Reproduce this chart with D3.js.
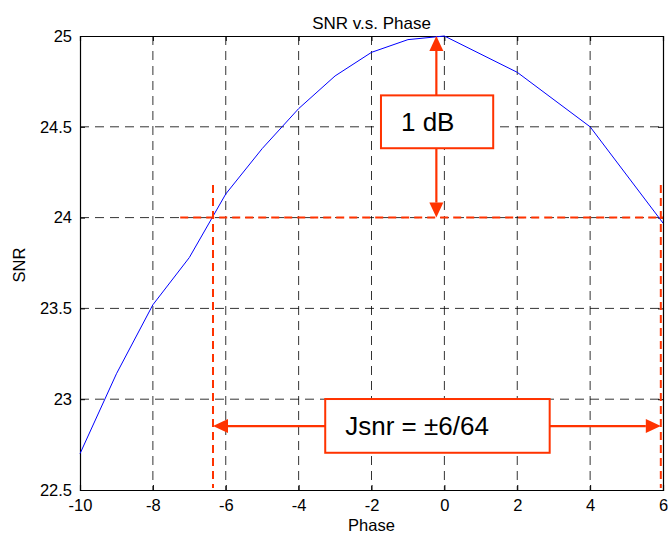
<!DOCTYPE html>
<html>
<head>
<meta charset="utf-8">
<script src="https://cdn.jsdelivr.net/npm/d3@7"></script>
<style>
  html, body { margin: 0; padding: 0; background: #fff; }
  svg { display: block; }
  text { font-family: "Liberation Sans", Arial, Helvetica, sans-serif; fill: #000; }
</style>
</head>
<body>
<script>
// ---------- data ----------
const phase = [-10, -9, -8, -7, -6, -5, -4, -3, -2, -1, 0, 2, 4, 6];
const snr   = [22.70, 23.14, 23.52, 23.78, 24.13, 24.38, 24.60, 24.78, 24.91, 24.98, 25.00, 24.80, 24.50, 23.97];
const xTicks = [-10, -8, -6, -4, -2, 0, 2, 4, 6];
const yTicks = [22.5, 23, 23.5, 24, 24.5, 25];
const titleText = "SNR v.s. Phase";
const xLabel = "Phase";
const yLabel = "SNR";
// annotations (data units)
const dbArrowX = -0.22;           // vertical arrow position
const dbRange = [25, 24];         // 1 dB span
const dbBox = { x0: -1.74, x1: 1.34, y0: 24.673, y1: 24.382, label: "1 dB" };
const refLevel = 24.0;            // horizontal red dashed line
const refLineX = [-7.25, 6.0];
const jLeft = -6.35, jRight = 5.94;
const jTopY = 24.18;
const jArrowY = 22.852;
const jBox = { x0: -3.27, x1: 2.89, y0: 23.001, y1: 22.705, label: "Jsnr = \u00b16/64" };

// ---------- layout ----------
const W = 668, H = 534;
const L = 80, R = 663, T = 36, B = 490;
const red = "#ff3300";

const svg = d3.select("body").append("svg").attr("width", W).attr("height", H);

const x = d3.scaleLinear().domain([-10, 6]).range([L, R]);
const y = d3.scaleLinear().domain([22.5, 25]).range([B, T]);

// grid
const grid = svg.append("g");
grid.selectAll("line.vg").data(xTicks.filter(d => d > -10 && d < 6)).enter().append("line")
  .attr("x1", d => x(d)).attr("x2", d => x(d)).attr("y1", T).attr("y2", B)
  .attr("stroke", "#000").attr("stroke-opacity", 0.8).attr("stroke-width", 1).attr("stroke-dasharray", "9,6");
grid.selectAll("line.hg").data(yTicks.filter(d => d > 22.5 && d < 25)).enter().append("line")
  .attr("x1", L).attr("x2", R).attr("y1", d => y(d)).attr("y2", d => y(d))
  .attr("stroke", "#000").attr("stroke-opacity", 0.8).attr("stroke-width", 1).attr("stroke-dasharray", "9,6");

// axes
const fmt = d => String(d);
const xAxisB = d3.axisBottom(x).tickValues(xTicks).tickSize(-5).tickPadding(9).tickFormat(fmt);
const xAxisT = d3.axisTop(x).tickValues(xTicks).tickSize(-5).tickFormat("");
const yAxisL = d3.axisLeft(y).tickValues(yTicks).tickSize(-5).tickPadding(8).tickFormat(fmt);
const yAxisR = d3.axisRight(y).tickValues(yTicks).tickSize(-5).tickFormat("");

function styleAxis(g) {
  g.select(".domain").attr("stroke", "#000").attr("stroke-width", 1.2);
  g.selectAll(".tick line").attr("stroke", "#000");
  g.selectAll(".tick text").attr("font-size", 16.5).attr("fill", "#000")
    .attr("font-family", "'Liberation Sans', Arial, sans-serif");
}
svg.append("g").attr("transform", `translate(0,${B})`).call(xAxisB).call(styleAxis);
svg.append("g").attr("transform", `translate(0,${T})`).call(xAxisT).call(styleAxis);
svg.append("g").attr("transform", `translate(${L},0)`).call(yAxisL).call(styleAxis);
svg.append("g").attr("transform", `translate(${R},0)`).call(yAxisR).call(styleAxis);

// data line
const line = d3.line().x((d, i) => x(phase[i])).y(d => y(d));
svg.append("path").datum(snr).attr("d", line)
  .attr("fill", "none").attr("stroke", "#0000ff").attr("stroke-width", 1);

// title & labels
svg.append("text").attr("x", (L + R) / 2).attr("y", 29).attr("text-anchor", "middle")
  .attr("font-size", 17).text(titleText);
svg.append("text").attr("x", (L + R) / 2).attr("y", 531).attr("text-anchor", "middle")
  .attr("font-size", 16.5).text(xLabel);
svg.append("text").attr("transform", `translate(25,${(T + B) / 2 + 2}) rotate(-90)`)
  .attr("text-anchor", "middle").attr("font-size", 16.5).text(yLabel);

// ---------- annotations ----------
const ann = svg.append("g");
// red dashed lines
ann.append("line").attr("x1", x(refLineX[0])).attr("x2", x(refLineX[1]))
  .attr("y1", y(refLevel)).attr("y2", y(refLevel))
  .attr("stroke", red).attr("stroke-width", 2).attr("stroke-dasharray", "8,5");
[jLeft, jRight].forEach(v => {
  ann.append("line").attr("x1", x(v)).attr("x2", x(v)).attr("y1", y(jTopY)).attr("y2", B - 2)
    .attr("stroke", red).attr("stroke-width", 2).attr("stroke-dasharray", "8,5");
});

const headLen = 15, headW = 7;
function vArrow(xv, ya, yb) {
  const px = x(xv), p0 = y(ya), p1 = y(yb);
  ann.append("line").attr("x1", px).attr("x2", px).attr("y1", p0 + headLen).attr("y2", p1 - headLen)
    .attr("stroke", red).attr("stroke-width", 2.2);
  ann.append("path").attr("d", `M${px},${p0} L${px - headW},${p0 + headLen} L${px + headW},${p0 + headLen} Z`).attr("fill", red);
  ann.append("path").attr("d", `M${px},${p1} L${px - headW},${p1 - headLen} L${px + headW},${p1 - headLen} Z`).attr("fill", red);
}
function hArrow(yv, xa, xb) {
  const py = y(yv), p0 = x(xa), p1 = x(xb);
  ann.append("line").attr("x1", p0 + headLen).attr("x2", p1 - headLen).attr("y1", py).attr("y2", py)
    .attr("stroke", red).attr("stroke-width", 2.2);
  ann.append("path").attr("d", `M${p0},${py} L${p0 + headLen},${py - headW} L${p0 + headLen},${py + headW} Z`).attr("fill", red);
  ann.append("path").attr("d", `M${p1},${py} L${p1 - headLen},${py - headW} L${p1 - headLen},${py + headW} Z`).attr("fill", red);
}
vArrow(dbArrowX, dbRange[0], dbRange[1]);
hArrow(jArrowY, jLeft, jRight);

function box(b) {
  const bx = x(b.x0), by = y(b.y0), bw = x(b.x1) - x(b.x0), bh = y(b.y1) - y(b.y0);
  ann.append("rect").attr("x", bx).attr("y", by).attr("width", bw).attr("height", bh)
    .attr("fill", "#fff").attr("stroke", red).attr("stroke-width", 2);
  return { bx, by, bw, bh };
}
const b1 = box(dbBox);
ann.append("text").attr("x", b1.bx + 20).attr("y", b1.by + b1.bh / 2 + 9.5)
  .attr("font-size", 26).text(dbBox.label);
const b2 = box(jBox);
ann.append("text").attr("x", b2.bx + 20).attr("y", b2.by + b2.bh / 2 + 9.5)
  .attr("font-size", 26).text(jBox.label);
</script>
</body>
</html>
